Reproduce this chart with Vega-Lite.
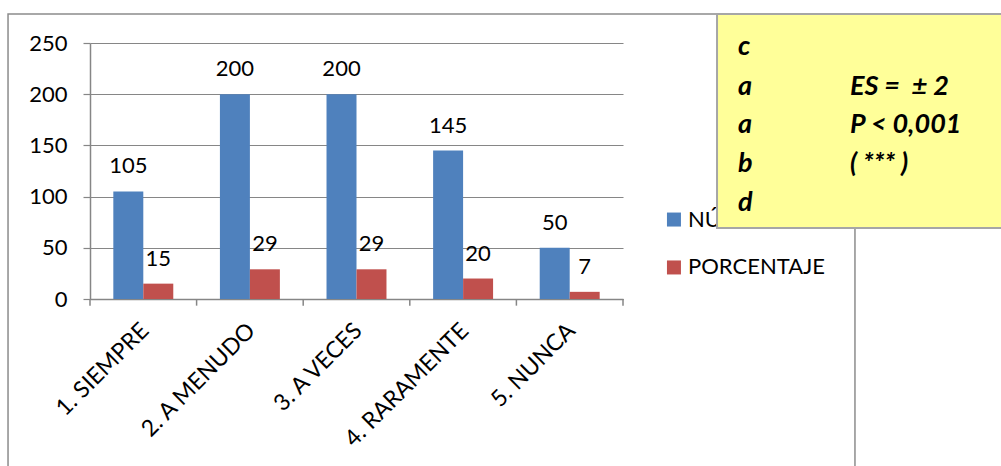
{
  "$schema": "https://vega.github.io/schema/vega-lite/v6.json",
  "width": 533,
  "height": 256,
  "autosize": {"type": "none"},
  "padding": {"left": 90, "top": 43, "right": 378, "bottom": 167},
  "background": "white",
  "config": {"view": {"stroke": null}, "font": "Lato"},
  "datasets": {
    "bars": [
      {"cat": "1. SIEMPRE", "serie": "NÚMERO", "v": 105},
      {"cat": "1. SIEMPRE", "serie": "PORCENTAJE", "v": 15},
      {"cat": "2. A MENUDO", "serie": "NÚMERO", "v": 200},
      {"cat": "2. A MENUDO", "serie": "PORCENTAJE", "v": 29},
      {"cat": "3. A VECES", "serie": "NÚMERO", "v": 200},
      {"cat": "3. A VECES", "serie": "PORCENTAJE", "v": 29},
      {"cat": "4. RARAMENTE", "serie": "NÚMERO", "v": 145},
      {"cat": "4. RARAMENTE", "serie": "PORCENTAJE", "v": 20},
      {"cat": "5. NUNCA", "serie": "NÚMERO", "v": 50},
      {"cat": "5. NUNCA", "serie": "PORCENTAJE", "v": 7}
    ],
    "frame": [{"x1": -0.769, "x2": 7.176, "y1": 278.3, "y2": -180}],
    "ticks": [{"t": 0}, {"t": 1}, {"t": 2}, {"t": 3}, {"t": 4}, {"t": 5}],
    "legend": [
      {"serie": "NÚMERO", "lx": 5.478, "tx": 5.61, "ly": 77.6},
      {"serie": "PORCENTAJE", "lx": 5.478, "tx": 5.61, "ly": 30.8}
    ],
    "box": [{"x1": 5.882, "x2": 8.8, "y1": 278.3, "y2": 69.3}],
    "boxtext": [
      {"bx": 6.079, "by": 238.3, "t": "c"},
      {"bx": 6.079, "by": 199.2, "t": "a"},
      {"bx": 6.079, "by": 162.1, "t": "a"},
      {"bx": 6.079, "by": 124.0, "t": "b"},
      {"bx": 6.079, "by": 85.9, "t": "d"},
      {"bx": 7.129, "by": 199.2, "t": "ES = \u00a0± 2"},
      {"bx": 7.129, "by": 162.1, "t": "P < 0,001"},
      {"bx": 7.129, "by": 124.0, "t": "( *** )"}
    ]
  },
  "layer": [
    {
      "data": {"name": "bars"},
      "mark": {"type": "bar"},
      "encoding": {
        "x": {
          "field": "cat", "type": "nominal", "sort": null,
          "scale": {"paddingInner": 0.4375, "paddingOuter": 0.21875},
          "axis": {
            "title": null, "labelAngle": -45, "labelAlign": "right", "labelBaseline": "top",
            "labelFontSize": 23, "labelColor": "black", "labelPadding": 20, "labelOffset": -6, "ticks": false,
            "domainColor": "#868686", "domainWidth": 1.5
          }
        },
        "xOffset": {"field": "serie", "type": "nominal", "scale": {"type": "band", "domain": ["NÚMERO", "PORCENTAJE"], "paddingInner": 0, "paddingOuter": 0}},
        "y": {
          "field": "v", "type": "quantitative",
          "scale": {"domain": [0, 250], "nice": false},
          "axis": {
            "title": null, "values": [0, 50, 100, 150, 200, 250], "grid": true,
            "gridColor": "#868686", "gridWidth": 1.2, "domainColor": "#868686", "domainWidth": 1.5,
            "tickColor": "#868686", "tickSize": 7, "tickWidth": 1.2, "labelPadding": 16,
            "labelFontSize": 22, "labelColor": "black"
          }
        },
        "color": {"field": "serie", "type": "nominal", "scale": {"domain": ["NÚMERO", "PORCENTAJE"], "range": ["#4F81BD", "#C0504D"]}, "legend": null}
      }
    },
    {
      "data": {"name": "frame"},
      "mark": {"type": "rect", "fill": "transparent", "stroke": "#8c8c8c", "strokeWidth": 1.5},
      "encoding": {
        "x": {"field": "x1", "type": "quantitative", "scale": {"domain": [0, 5], "nice": false, "zero": false}, "axis": null},
        "x2": {"field": "x2"},
        "y": {"field": "y1", "type": "quantitative", "scale": {"domain": [0, 250], "nice": false}, "axis": null},
        "y2": {"field": "y2"}
      }
    },
    {
      "data": {"name": "bars"},
      "mark": {"type": "text", "dy": -25, "baseline": "middle", "fontSize": 22, "color": "black"},
      "encoding": {
        "x": {"field": "cat", "type": "nominal", "sort": null, "scale": {"paddingInner": 0.4375, "paddingOuter": 0.21875}, "axis": null},
        "xOffset": {"field": "serie", "type": "nominal", "scale": {"type": "band", "domain": ["NÚMERO", "PORCENTAJE"], "paddingInner": 0, "paddingOuter": 0}},
        "y": {"field": "v", "type": "quantitative", "scale": {"domain": [0, 250], "nice": false}, "axis": null},
        "text": {"field": "v", "type": "quantitative"}
      }
    },
    {
      "data": {"name": "ticks"},
      "mark": {"type": "rule", "color": "#868686", "strokeWidth": 1.5},
      "encoding": {
        "x": {"field": "t", "type": "quantitative", "scale": {"domain": [0, 5], "nice": false, "zero": false}, "axis": null},
        "y": {"datum": 0, "type": "quantitative", "scale": {"domain": [0, 250], "nice": false}, "axis": null},
        "y2": {"datum": -6.5}
      }
    },
    {
      "data": {"name": "legend"},
      "mark": {"type": "square", "size": 196, "opacity": 1},
      "encoding": {
        "x": {"field": "lx", "type": "quantitative", "scale": {"domain": [0, 5], "nice": false, "zero": false}, "axis": null},
        "y": {"field": "ly", "type": "quantitative", "scale": {"domain": [0, 250], "nice": false}, "axis": null},
        "color": {"field": "serie", "type": "nominal", "legend": null}
      }
    },
    {
      "data": {"name": "legend"},
      "mark": {"type": "text", "align": "left", "baseline": "middle", "fontSize": 22, "color": "black"},
      "encoding": {
        "x": {"field": "tx", "type": "quantitative", "scale": {"domain": [0, 5], "nice": false, "zero": false}, "axis": null},
        "y": {"field": "ly", "type": "quantitative", "scale": {"domain": [0, 250], "nice": false}, "axis": null},
        "text": {"field": "serie"}
      }
    },
    {
      "data": {"name": "box"},
      "mark": {"type": "rect", "fill": "#FFFF99", "stroke": "#A6A6A6", "strokeWidth": 2},
      "encoding": {
        "x": {"field": "x1", "type": "quantitative", "scale": {"domain": [0, 5], "nice": false, "zero": false}, "axis": null},
        "x2": {"field": "x2"},
        "y": {"field": "y1", "type": "quantitative", "scale": {"domain": [0, 250], "nice": false}, "axis": null},
        "y2": {"field": "y2"}
      }
    },
    {
      "data": {"name": "boxtext"},
      "mark": {"type": "text", "align": "left", "baseline": "alphabetic", "fontSize": 27, "fontWeight": "bold", "fontStyle": "italic", "color": "black"},
      "encoding": {
        "x": {"field": "bx", "type": "quantitative", "scale": {"domain": [0, 5], "nice": false, "zero": false}, "axis": null},
        "y": {"field": "by", "type": "quantitative", "scale": {"domain": [0, 250], "nice": false}, "axis": null},
        "text": {"field": "t"}
      }
    }
  ],
  "resolve": {"scale": {"x": "independent", "xOffset": "independent"}, "axis": {"y": "independent"}}
}
